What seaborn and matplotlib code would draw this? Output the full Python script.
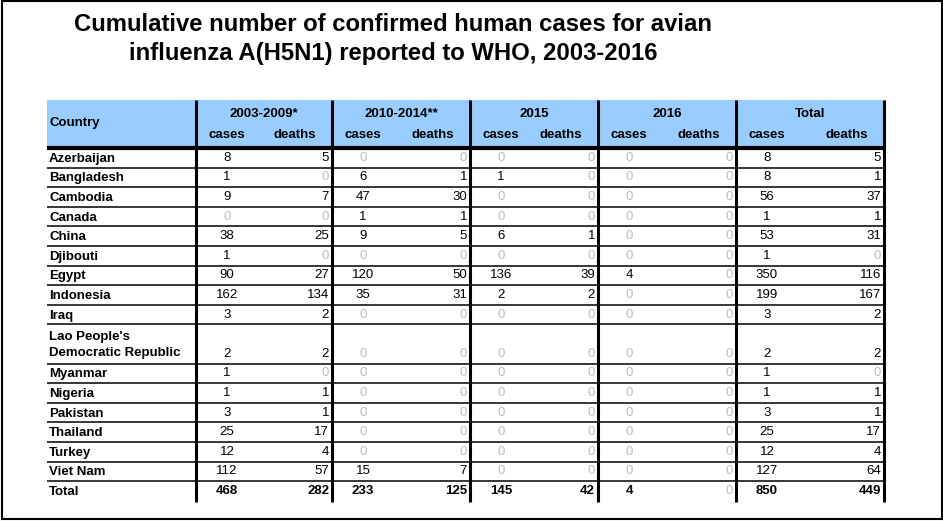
import numpy as np
import pandas as pd
import seaborn as sns
import matplotlib.pyplot as plt
from matplotlib.patches import Rectangle

# Table values
countries = ["Azerbaijan", "Bangladesh", "Cambodia", "Canada", "China", "Djibouti",
             "Egypt", "Indonesia", "Iraq", "Lao People's\nDemocratic Republic",
             "Myanmar", "Nigeria", "Pakistan", "Thailand", "Turkey", "Viet Nam"]
cases_2003_2009 = [8, 1, 9, 0, 38, 1, 90, 162, 3, 2, 1, 1, 3, 25, 12, 112]
deaths_2003_2009 = [5, 0, 7, 0, 25, 0, 27, 134, 2, 2, 0, 1, 1, 17, 4, 57]
cases_2010_2014 = [0, 6, 47, 1, 9, 0, 120, 35, 0, 0, 0, 0, 0, 0, 0, 15]
deaths_2010_2014 = [0, 1, 30, 1, 5, 0, 50, 31, 0, 0, 0, 0, 0, 0, 0, 7]
cases_2015 = [0, 1, 0, 0, 6, 0, 136, 2, 0, 0, 0, 0, 0, 0, 0, 0]
deaths_2015 = [0, 0, 0, 0, 1, 0, 39, 2, 0, 0, 0, 0, 0, 0, 0, 0]
cases_2016 = [0, 0, 0, 0, 0, 0, 4, 0, 0, 0, 0, 0, 0, 0, 0, 0]
deaths_2016 = [0, 0, 0, 0, 0, 0, 0, 0, 0, 0, 0, 0, 0, 0, 0, 0]

periods = ["2003-2009*", "2010-2014**", "2015", "2016", "Total"]
title = ("Cumulative number of confirmed human cases for avian\n"
         "influenza A(H5N1) reported to WHO, 2003-2016")

df = pd.DataFrame({
    ("2003-2009*", "cases"): cases_2003_2009, ("2003-2009*", "deaths"): deaths_2003_2009,
    ("2010-2014**", "cases"): cases_2010_2014, ("2010-2014**", "deaths"): deaths_2010_2014,
    ("2015", "cases"): cases_2015, ("2015", "deaths"): deaths_2015,
    ("2016", "cases"): cases_2016, ("2016", "deaths"): deaths_2016,
}, index=countries)
df[("Total", "cases")] = df.xs("cases", axis=1, level=1).sum(axis=1)
df[("Total", "deaths")] = df.xs("deaths", axis=1, level=1).sum(axis=1)
df.loc["Total"] = df.sum()

sns.set_theme(style="white")
plt.rcParams["font.family"] = ["Liberation Sans", "DejaVu Sans"]
plt.rcParams["text.color"] = "black"

fig = plt.figure(figsize=(9.43, 5.21), dpi=100)
ax = fig.add_axes([0, 0, 1, 1])
ax.set_xlim(0, 943)
ax.set_ylim(521, 0)
ax.axis("off")

# layout (pixel-like units)
col_edges = [47, 196, 332, 470, 598, 736, 884]
head_top, head_bot = 100, 146
body_top, unit = 148, 19.6
fs = 9.5
zero_col = "#bdbdbd"

heights = [2 if "\n" in c else 1 for c in df.index]
bottoms = body_top + unit * np.cumsum(heights)
tops = bottoms - unit * np.array(heights)

ax.add_patch(Rectangle((col_edges[0], head_top), 886 - col_edges[0],
                       head_bot - head_top, color="#99ccff", lw=0))

ax.text(50, 123, "Country", ha="left", va="center", fontsize=fs, fontweight="bold")
for i, p in enumerate(periods):
    left, right = col_edges[i + 1], col_edges[i + 2]
    ax.text((left + right) / 2, 114, p, ha="center", va="center",
            fontsize=fs, fontweight="bold")
    ax.text(left + 31, 135, "cases", ha="center", va="center",
            fontsize=fs, fontweight="bold")
    ax.text(right - 37, 135, "deaths", ha="center", va="center",
            fontsize=fs, fontweight="bold")

for r, name in enumerate(df.index):
    is_total = name == "Total"
    ax.text(49, (tops[r] + bottoms[r]) / 2 + 1, name, ha="left", va="center",
            fontsize=fs, fontweight="bold", linespacing=1.35)
    y = bottoms[r] - unit / 2
    for i, p in enumerate(periods):
        left, right = col_edges[i + 1], col_edges[i + 2]
        c = df.loc[name, (p, "cases")]
        d = df.loc[name, (p, "deaths")]
        ax.text(left + 31, y, str(c), ha="center", va="center", fontsize=fs,
                color=zero_col if c == 0 else "black",
                fontweight="bold" if is_total and c != 0 else "normal")
        ax.text(right - 3, y, str(d), ha="right", va="center", fontsize=fs,
                color=zero_col if d == 0 else "black",
                fontweight="bold" if is_total and d != 0 else "normal")

# grid lines
ax.hlines(bottoms[:-1], col_edges[0], col_edges[-1], color="black", lw=1.1)
ax.hlines(head_bot + 1.5, col_edges[0], col_edges[-1], color="black", lw=3)
ax.vlines(col_edges[1:], head_top, bottoms[-1] + 1, color="black", lw=2.2)

ax.text(393, 39, title, ha="center", va="center", fontsize=17.2,
        fontweight="bold", linespacing=1.28)

ax.add_patch(Rectangle((1.5, 0.8), 940, 518, fill=False, ec="black", lw=1.5))

fig.savefig("out.png", dpi=100)
